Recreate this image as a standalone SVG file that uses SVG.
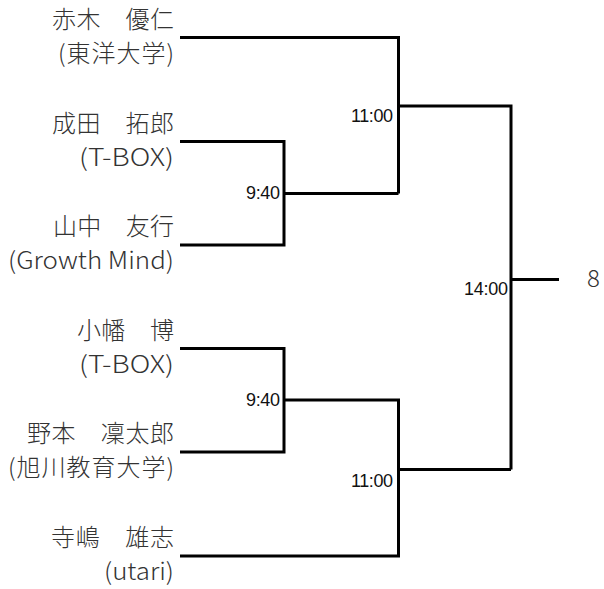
<svg xmlns="http://www.w3.org/2000/svg" width="604" height="589" viewBox="0 0 604 589">
<style>
.name{font-family:"Noto Sans CJK JP","Noto Sans",sans-serif;font-size:24px;font-weight:300;fill:#333;text-anchor:end}
.lat{font-family:"Noto Sans CJK JP","Noto Sans",sans-serif;font-size:24px;font-weight:300;fill:#333;text-anchor:end}
.time{font-family:"Liberation Sans",Arial,sans-serif;font-size:18px;fill:#111;text-anchor:end}
.res{font-family:"Noto Sans CJK JP","Noto Sans",sans-serif;font-size:24px;font-weight:300;fill:#333}
.ln{fill:none;stroke:#000;stroke-width:3;stroke-linejoin:miter;stroke-linecap:butt}
</style>
<rect width="604" height="589" fill="#fff"/>
<g id="connectors" class="ln">
<path d="M180,37.5 H398.5 V193.5"/>
<path d="M180,141.5 H284 V245 H180"/>
<path d="M284,193.5 H398.5"/>
<path d="M398.5,106 H511 V469.5"/>
<path d="M511,279.5 H559"/>
<path d="M180,348.5 H284 V452 H180"/>
<path d="M284,400 H398.5 V556 H180"/>
<path d="M398.5,469.5 H511"/>
</g>
<g id="p1"><text class="name" x="174" y="28" textLength="122">赤木　優仁</text><text class="name" x="174" y="62" textLength="116">(東洋大学)</text></g>
<g id="p2"><text class="name" x="174" y="132" textLength="122">成田　拓郎</text><text class="lat" x="174" y="166" textLength="95" lengthAdjust="spacingAndGlyphs">(T-BOX)</text></g>
<g id="p3"><text class="name" x="174" y="235" textLength="121">山中　友行</text><text class="lat" x="174" y="269" textLength="166" lengthAdjust="spacingAndGlyphs">(Growth Mind)</text></g>
<g id="p4"><text class="name" x="174" y="339" textLength="97">小幡　博</text><text class="lat" x="174" y="373" textLength="95" lengthAdjust="spacingAndGlyphs">(T-BOX)</text></g>
<g id="p5"><text class="name" x="174" y="442" textLength="147">野本　凜太郎</text><text class="name" x="174" y="476" textLength="166">(旭川教育大学)</text></g>
<g id="p6"><text class="name" x="174" y="546" textLength="123">寺嶋　雄志</text><text class="lat" x="174" y="580" textLength="70" lengthAdjust="spacingAndGlyphs">(utari)</text></g>
<g id="m1"><text class="time" x="280" y="199" textLength="34">9:40</text></g>
<g id="m2"><text class="time" x="280" y="406" textLength="34">9:40</text></g>
<g id="m3"><text class="time" x="393" y="122" textLength="42">11:00</text></g>
<g id="m4"><text class="time" x="393" y="487" textLength="42">11:00</text></g>
<g id="m5"><text class="time" x="508" y="295" textLength="44">14:00</text></g>
<g id="result"><text class="res" x="587" y="287">8</text></g>
</svg>
